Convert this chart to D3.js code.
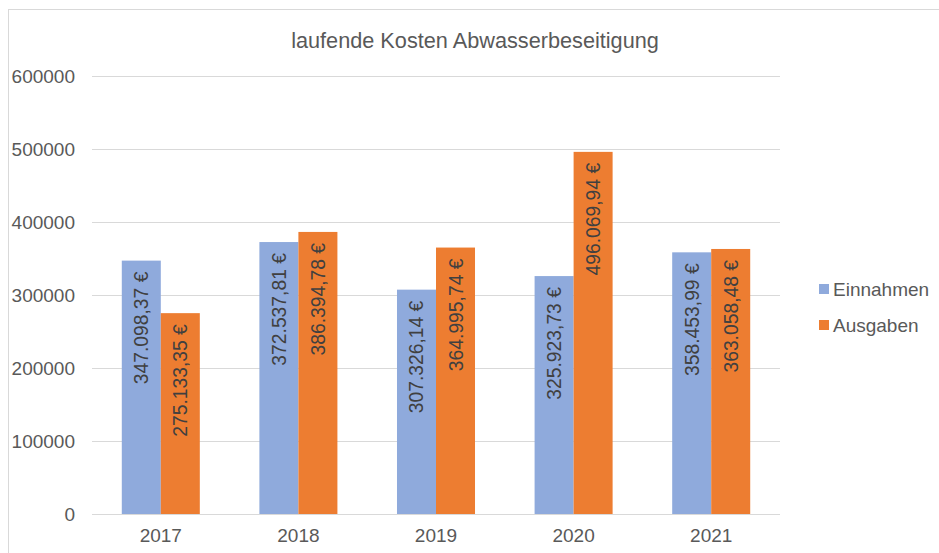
<!DOCTYPE html>
<html>
<head>
<meta charset="utf-8">
<script src="https://d3js.org/d3.v7.min.js"></script>
<style>
  body { margin: 0; background: #fff; }
  text { font-family: "Liberation Sans", Arial, sans-serif; }
</style>
</head>
<body>
<div id="bar_chart"></div>
<script>
// data
var years = ['2017', '2018', '2019', '2020', '2021']
var seriesNames = ['Einnahmen', 'Ausgaben']
var einnahmen = [347098.37, 372537.81, 307326.14, 325923.73, 358453.99]
var ausgaben = [275133.35, 386394.78, 364995.74, 496069.94, 363058.48]
var yTicks = [0, 100000, 200000, 300000, 400000, 500000, 600000]

var colors = ['#8FAADC', '#ED7D31']

// set the dimensions and margins of the graph
var W = 939, H = 553
var margin = {top: 76, right: 159, bottom: 39, left: 92},
    width = W - margin.left - margin.right,
    height = H - margin.top - margin.bottom;

var svg0 = d3.select("#bar_chart")
  .append("svg")
    .attr("width", W)
    .attr("height", H)

// chart border
svg0.append("rect")
    .attr("x", 8.5)
    .attr("y", 9.5)
    .attr("width", W + 10)
    .attr("height", H + 10)
    .attr("fill", "#fff")
    .attr("stroke", "#d9d9d9")
    .attr("stroke-width", 1)

// title
svg0.append("text")
    .attr("x", 475)
    .attr("y", 48)
    .attr("text-anchor", "middle")
    .style("font-size", "21.7px")
    .style("fill", "#595959")
    .text("laufende Kosten Abwasserbeseitigung")

var svg = svg0.append("g")
    .attr("transform", "translate(" + margin.left + "," + margin.top + ")");

var data = years.map(function(y, i) {
  return {year: y, values: [einnahmen[i], ausgaben[i]]}
})

var x0 = d3.scaleBand()
  .domain(years)
  .range([0, width])
  .paddingInner(0.433)
  .paddingOuter(0.2165)

var x1 = d3.scaleBand()
  .domain([0, 1])
  .range([0, x0.bandwidth()])

var y = d3.scaleLinear()
  .domain([0, 600000])
  .range([height, 0])

// gridlines
svg.append("g")
  .selectAll("line")
  .data(yTicks)
  .enter()
  .append("line")
    .attr("x1", 0)
    .attr("x2", width)
    .attr("y1", function(d) { return Math.round(y(d)) + 0.5 })
    .attr("y2", function(d) { return Math.round(y(d)) + 0.5 })
    .attr("stroke", "#d9d9d9")
    .attr("stroke-width", 1)

// Y axis labels
var yAxis = d3.axisLeft(y).tickValues(yTicks).tickSize(0).tickPadding(17).tickFormat(d3.format("d"))
svg.append("g")
    .call(yAxis)
    .call(function(g) { g.select(".domain").remove() })
    .selectAll("text")
      .style("font-size", "19px")
      .style("fill", "#595959")
      .attr("font-family", null)

// X axis labels
var xAxis = d3.axisBottom(x0).tickSize(0).tickPadding(15)
svg.append("g")
    .attr("transform", "translate(0," + height + ")")
    .call(xAxis)
    .call(function(g) { g.select(".domain").remove() })
    .selectAll("text")
      .style("font-size", "19px")
      .style("fill", "#595959")
      .attr("font-family", null)

// bars
var groups = svg.append("g")
  .selectAll("g")
  .data(data)
  .enter()
  .append("g")
    .attr("transform", function(d) { return "translate(" + x0(d.year) + ",0)" })

groups.selectAll("rect")
  .data(function(d) { return d.values })
  .enter()
  .append("rect")
    .attr("x", function(d, i) { return x1(i) })
    .attr("y", function(d) { return y(d) })
    .attr("width", x1.bandwidth())
    .attr("height", function(d) { return height - y(d) })
    .attr("fill", function(d, i) { return colors[i] })

// data labels, rotated inside the bar end
var fmt = function(v) {
  var s = v.toFixed(2).split(".")
  return s[0].replace(/\B(?=(\d{3})+(?!\d))/g, ".") + "," + s[1] + " €"
}

groups.selectAll(".lbl")
  .data(function(d) { return d.values })
  .enter()
  .append("text")
    .attr("class", "lbl")
    .attr("transform", function(d, i) {
      return "translate(" + (x1(i) + x1.bandwidth() / 2 + 7) + "," + (y(d) + 11) + ") rotate(-90)"
    })
    .attr("text-anchor", "end")
    .style("font-size", "19.3px")
    .style("fill", "#404040")
    .text(function(d) { return fmt(d) })

// legend
var legend = svg0.append("g")
  .selectAll("g")
  .data(seriesNames)
  .enter()
  .append("g")
    .attr("transform", function(d, i) { return "translate(819," + (284 + i * 36) + ")" })

legend.append("rect")
    .attr("width", 10)
    .attr("height", 10)
    .attr("fill", function(d, i) { return colors[i] })

legend.append("text")
    .attr("x", 14)
    .attr("y", 12)
    .style("font-size", "19px")
    .style("fill", "#595959")
    .text(function(d) { return d })
</script>
</body>
</html>
